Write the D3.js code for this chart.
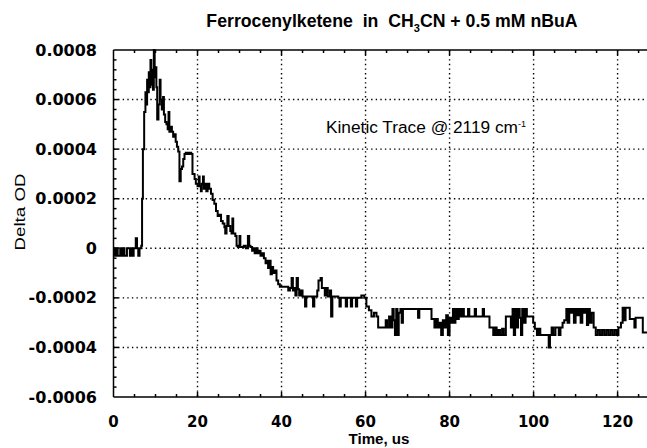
<!DOCTYPE html>
<html>
<head>
<meta charset="utf-8">
<script src="https://cdn.jsdelivr.net/npm/d3@7"></script>
<style>
  body { margin: 0; background: #fff; }
  svg { display: block; }
  text { fill: #000; }
</style>
</head>
<body>
<div id="chart"></div>
<script>
// time in us, delta OD in units of 1e-4
var trace_t = [
  0, 0.3, 0.6, 1.0, 1.3, 1.6, 1.9, 2.2, 2.6, 2.9, 3.2, 3.6, 3.9, 4.2, 4.5, 4.8, 5.3, 5.6, 5.9, 6.2, 6.6,
  6.8, 7.0, 7.3, 7.6, 7.9, 8.0, 8.2, 8.4, 8.6, 8.8, 9.0, 9.2, 9.4, 9.6, 9.8, 10.0, 10.2, 10.4, 10.7,
  11.0, 11.2, 11.5, 11.8, 12.0, 12.3, 12.6, 12.9, 13.1, 13.3, 13.6, 13.9, 14.2, 14.5, 14.8, 15.1, 15.4,
  15.7, 16.0, 16.3, 16.6, 16.9, 17.2, 17.6, 18.0, 18.5, 18.8, 19.3, 19.6, 20.0, 20.3, 20.5, 20.8, 21.0,
  21.3, 21.5, 21.8, 22.1, 22.4, 22.8, 23.2, 23.6, 24.0, 24.4, 24.8, 25.2, 25.6, 26.0, 26.4, 26.6, 26.9,
  27.1, 27.4, 27.8, 28.1, 28.3, 28.5, 29.0, 29.3, 29.6, 30.0, 30.2, 30.6, 31.0, 31.5, 32.0, 32.3, 32.6,
  33.0, 33.3, 33.6, 34.0, 34.3, 34.6, 35.0, 35.4, 35.8, 36.2, 36.5, 36.8, 37.1, 37.4, 37.7, 38.0, 38.4,
  38.8, 39.2, 39.6, 41.0, 41.6, 42.0, 42.4, 42.7, 43.0, 43.3, 43.6, 43.9, 44.2, 44.6, 45.0, 45.6, 45.9,
  47.0, 47.5, 47.8, 48.5, 48.8, 49.3, 49.6, 50.0, 50.3, 50.6, 51.0, 51.5, 51.8, 52.1, 53.5, 53.8, 54.1,
  55.0, 55.3, 55.6, 56.2, 56.5, 56.8, 57.4, 57.7, 58.0, 58.7, 59.0, 59.7, 60.2, 60.8, 61.4, 62.0, 62.6,
  63.0, 64.5, 64.8, 65.1, 65.6, 66.0, 66.4, 66.7, 67.0, 67.3, 67.6, 67.9, 68.3, 68.6, 68.9, 72.5, 72.8,
  75.7, 76.4, 76.8, 77.2, 77.6, 78.0, 78.4, 78.8, 79.2, 79.6, 80.0, 80.4, 80.8, 81.1, 81.4, 81.8, 82.2,
  82.6, 83.0, 83.4, 84.4, 84.7, 86.0, 86.3, 87.9, 88.2, 89.5, 90.4, 90.8, 91.2, 91.6, 92.0, 92.5, 92.9,
  93.4, 94.6, 95.0, 95.3, 95.6, 96.0, 96.3, 96.7, 97.0, 97.3, 97.7, 98.1, 98.4, 99.9, 100.3, 100.8,
  101.2, 101.6, 103.6, 103.9, 104.3, 104.7, 105.2, 106.0, 106.4, 106.9, 107.3, 107.8, 108.1, 108.5,
  108.8, 109.2, 109.6, 110.0, 110.4, 110.8, 111.2, 111.6, 112.0, 112.4, 112.7, 113.0, 113.4, 113.8,
  114.3, 114.8, 115.3, 115.8, 116.3, 116.8, 117.3, 117.8, 118.3, 118.8, 119.3, 119.8, 120.2, 120.8,
  121.2, 121.6, 121.9, 122.9, 124.0, 124.3, 126.0, 127.0
];

var trace_od = [
  0, -0.3, 0, -0.3, -0.3, 0, -0.3, 0, -0.3, -0.3, 0, 0, -0.3, 0, -0.3, 0, 0.4, 0, -0.3, 0, 0.1,
  2.0, 4.0, 5.5, 6.3, 5.8, 6.8, 6.3, 7.1, 6.5, 7.6, 6.6, 7.2, 6.4, 8.0, 6.9, 7.3, 6.5, 5.2, 5.8,
  6.8, 6.0, 5.6, 6.1, 5.4, 5.1, 5.0, 4.8, 5.5, 4.7, 4.9, 4.7, 4.5, 4.6, 4.3, 4.1, 3.9,
  2.7, 3.2, 3.3, 3.6, 3.8, 3.85, 3.8, 3.85, 3.8, 3.0, 2.8, 2.6, 2.5, 2.9, 2.5, 2.3, 2.6,
  2.9, 2.4, 2.6, 2.3, 2.6, 2.4, 2.2, 1.95, 1.8, 1.5, 1.3, 1.35, 1.1, 1.0, 0.85, 0.6, 0.9,
  1.3, 0.9, 0.7, 0.6, 1.2, 0.6, 0.5, 0.1, 0.05, 0.5, 0.05, 0.05, 0.1, 0, 0.5, 0.1, 0.05,
  -0.1, 0, -0.2, 0, -0.2, -0.1, -0.3, -0.2, -0.4, -0.6, -0.5, -0.8, -0.5, -1.05, -0.75, -1.0, -0.9,
  -1.3, -1.45, -1.55, -1.55, -1.7, -1.6, -1.2, -1.7, -1.6, -1.9, -1.2, -1.65, -1.9, -1.7, -1.95, -2.35, -1.95,
  -1.95, -2.35, -1.95, -1.7, -1.3, -1.2, -1.6, -1.6, -1.9, -1.6, -1.95, -1.7, -2.75, -1.95, -2.0, -2.35, -2.0,
  -2.0, -2.35, -2.0, -2.0, -2.35, -2.0, -2.0, -2.35, -2.0, -2.0, -1.9, -2.0, -2.35, -2.5, -2.75, -2.6, -2.75,
  -3.2, -3.2, -2.9, -3.2, -2.75, -3.2, -2.45, -2.9, -3.5, -2.45, -3.5, -2.6, -2.45, -3.0, -2.45, -2.8, -2.45,
  -2.85, -3.2, -2.85, -3.2, -3.0, -3.5, -2.9, -3.2, -2.7, -3.5, -2.8, -3.0, -2.45, -3.0, -2.45, -2.85, -2.45,
  -2.75, -2.45, -2.75, -2.45, -2.75, -2.45, -2.75, -2.45, -2.75, -3.2, -3.5, -3.2, -3.5, -3.3, -3.5, -3.25, -3.5,
  -2.75, -3.2, -2.45, -3.5, -2.45, -3.2, -2.45, -2.8, -3.5, -2.45, -3.0, -2.45, -2.75, -3.0, -3.25, -3.5,
  -3.25, -3.5, -4.0, -3.5, -3.2, -3.5, -3.2, -3.5, -3.2, -3.0, -2.9, -2.45, -3.0, -2.45,
  -2.6, -2.45, -3.0, -2.45, -2.7, -2.45, -3.0, -2.45, -2.6, -2.45, -3.1, -2.45, -3.0, -2.6,
  -3.2, -3.5, -3.3, -3.5, -3.3, -3.5, -3.3, -3.5, -3.3, -3.5, -3.3, -3.5, -3.2, -3.0,
  -2.4, -2.9, -2.4, -2.85, -3.2, -2.8, -3.4, -3.4
];

var x_ticks = [0, 20, 40, 60, 80, 100, 120];
var y_ticks = [8, 6, 4, 2, 0, -2, -4, -6];
var y_tick_labels = ["0.0008", "0.0006", "0.0004", "0.0002", "0", "-0.0002", "-0.0004", "-0.0006"];

var chart = {
  width: 647,
  height: 448,
  left: 113.5,
  right: 647,
  top: 50,
  bottom: 397
};

var x = d3.scaleLinear().domain([0, 127]).range([chart.left, chart.right]);
var y = d3.scaleLinear().domain([-6, 8]).range([chart.bottom, chart.top]);

var svg = d3.select("#chart").append("svg")
  .attr("width", chart.width)
  .attr("height", chart.height);

// dotted grid
var grid = svg.append("g")
  .attr("stroke", "#000")
  .attr("stroke-width", 1.4)
  .attr("stroke-dasharray", "1.4,3.2");

grid.selectAll("line.gx")
  .data(x_ticks.slice(1))
  .enter().append("line")
  .attr("class", "gx")
  .attr("x1", function(d) { return x(d); })
  .attr("x2", function(d) { return x(d); })
  .attr("y1", chart.top)
  .attr("y2", chart.bottom);

grid.selectAll("line.gy")
  .data(y_ticks.slice(1, -1))
  .enter().append("line")
  .attr("class", "gy")
  .attr("x1", chart.left)
  .attr("x2", chart.right)
  .attr("y1", function(d) { return y(d); })
  .attr("y2", function(d) { return y(d); });

// trace
var trace = trace_t.map(function(t, i) { return [t, trace_od[i]]; });

svg.append("path")
  .datum(trace)
  .attr("fill", "none")
  .attr("stroke", "#000")
  .attr("stroke-width", 2)
  .attr("stroke-linejoin", "miter")
  .attr("d", d3.line()
    .x(function(d) { return x(d[0]); })
    .y(function(d) { return y(d[1]); })
    .curve(d3.curveStepAfter));

// frame and inward ticks
var axes = svg.append("g").attr("stroke", "#000").attr("stroke-width", 1.5);

axes.append("line")
  .attr("x1", chart.left).attr("x2", chart.left)
  .attr("y1", chart.top).attr("y2", chart.bottom);
axes.append("line")
  .attr("x1", chart.left).attr("x2", chart.right)
  .attr("y1", chart.bottom).attr("y2", chart.bottom);
axes.append("line")
  .attr("x1", chart.left).attr("x2", chart.right)
  .attr("y1", chart.top).attr("y2", chart.top);

var x_minor = d3.range(5, 127, 5);
var y_minor = d3.range(-5.6, 8, 0.4);

function x_tick_len(d) { return d % 20 === 0 ? 5 : 3; }
function y_tick_len(d) { return Math.abs(Math.round(d * 10) % 20) === 0 ? 5 : 3; }

axes.selectAll("line.xb")
  .data(x_minor)
  .enter().append("line")
  .attr("class", "xb")
  .attr("x1", function(d) { return x(d); })
  .attr("x2", function(d) { return x(d); })
  .attr("y1", chart.bottom)
  .attr("y2", function(d) { return chart.bottom - x_tick_len(d); });

axes.selectAll("line.xt")
  .data(x_minor)
  .enter().append("line")
  .attr("class", "xt")
  .attr("x1", function(d) { return x(d); })
  .attr("x2", function(d) { return x(d); })
  .attr("y1", chart.top)
  .attr("y2", function(d) { return chart.top + x_tick_len(d); });

axes.selectAll("line.yl")
  .data(y_minor)
  .enter().append("line")
  .attr("class", "yl")
  .attr("x1", chart.left)
  .attr("x2", function(d) { return chart.left + y_tick_len(d); })
  .attr("y1", function(d) { return y(d); })
  .attr("y2", function(d) { return y(d); });

// tick labels
svg.selectAll("text.ylab")
  .data(y_ticks)
  .enter().append("text")
  .attr("class", "ylab")
  .attr("x", 97)
  .attr("y", function(d) { return y(d) + 5.5; })
  .attr("text-anchor", "end")
  .style("font", "bold 16px 'DejaVu Sans'")
  .text(function(d, i) { return y_tick_labels[i]; });

svg.selectAll("text.xlab")
  .data(x_ticks)
  .enter().append("text")
  .attr("class", "xlab")
  .attr("x", function(d) { return x(d); })
  .attr("y", 427)
  .attr("text-anchor", "middle")
  .style("font", "bold 15px 'DejaVu Sans'")
  .text(function(d) { return d; });

// axis titles
svg.append("text")
  .attr("x", 379)
  .attr("y", 444)
  .attr("text-anchor", "middle")
  .attr("textLength", 61)
  .attr("lengthAdjust", "spacingAndGlyphs")
  .style("font", "bold 15px 'Liberation Sans'")
  .text("Time, us");

svg.append("text")
  .attr("transform", "translate(25,212) rotate(-90)")
  .attr("text-anchor", "middle")
  .attr("textLength", 77)
  .attr("lengthAdjust", "spacingAndGlyphs")
  .style("font", "15px 'Liberation Sans'")
  .text("Delta OD");

// title with subscript
var title = svg.append("text")
  .attr("x", 392)
  .attr("y", 27)
  .attr("text-anchor", "middle")
  .style("font", "bold 17.7px 'Liberation Sans'");
title.append("tspan").text("Ferrocenylketene\u00a0 in \u00a0CH");
title.append("tspan").attr("dy", 5).style("font-size", "11px").text("3");
title.append("tspan").attr("dy", -5).text("CN + 0.5 mM nBuA");

// annotation
var note = svg.append("text")
  .attr("x", 326)
  .attr("y", 133)
  .style("font", "500 16px 'Liberation Sans'");
note.append("tspan")
  .attr("textLength", 192)
  .attr("lengthAdjust", "spacingAndGlyphs")
  .text("Kinetic Trace @ 2119 cm");
note.append("tspan").attr("dy", -6).style("font-size", "9px").text("-1");
</script>
</body>
</html>
